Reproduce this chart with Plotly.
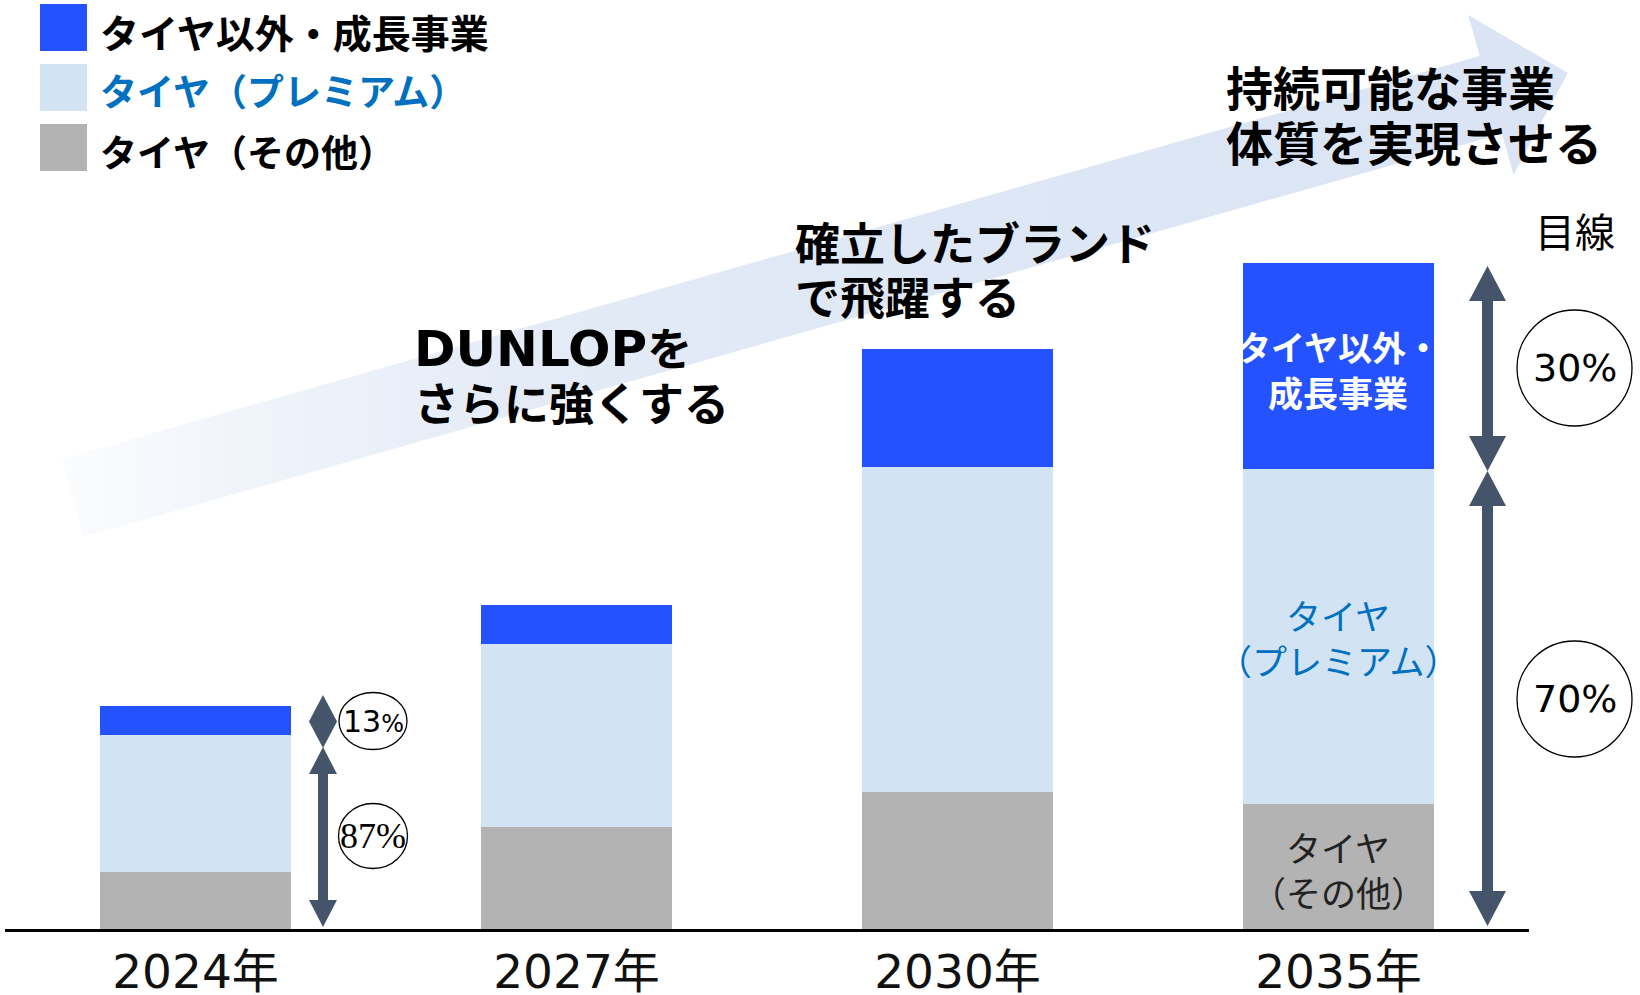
import math
import plotly.graph_objects as go

# ---------------- data ----------------
years = ["2024年", "2027年", "2030年", "2035年"]
tire_other = [57, 102, 137, 125]        # タイヤ（その他）
tire_premium = [137, 183, 325, 335]     # タイヤ（プレミアム）
growth = [29, 39, 118, 206]             # タイヤ以外・成長事業
series_names = ["タイヤ以外・成長事業", "タイヤ（プレミアム）", "タイヤ（その他）"]
share_2024 = ["13%", "87%"]
share_2035 = ["30%", "70%"]
headline_1 = ["DUNLOPを", "さらに強くする"]
headline_2 = ["確立したブランド", "で飛躍する"]
headline_3 = ["持続可能な事業", "体質を実現させる"]

C_GROWTH = "#2452FF"
C_PREM = "#D2E3F3"
C_OTHER = "#B3B3B3"
C_ARROW = "#44546A"
C_PREM_TXT = "#0070C0"
JP = "Noto Sans CJK JP"

W, H = 1640, 995
fig = go.Figure()

# ---------- background gradient arrow (pixel coordinates on x/y) ----------
tail = (72.5, 498.0)
theta = math.atan(0.2842)
u = (math.cos(theta), -math.sin(theta))
n = (math.sin(theta), math.cos(theta))
shaft_len, head_len, shaft_hw, head_hw = 1474.5, 80.0, 40.4, 83.0
pts_sn = [(0, -shaft_hw), (shaft_len, -shaft_hw), (shaft_len, -head_hw),
          (shaft_len + head_len, 0), (shaft_len, head_hw), (shaft_len, shaft_hw),
          (0, shaft_hw), (0, -shaft_hw)]
ax = [tail[0] + s * u[0] + q * n[0] for s, q in pts_sn]
ay = [tail[1] + s * u[1] + q * n[1] for s, q in pts_sn]
fig.add_trace(go.Scatter(
    x=ax, y=ay, mode="lines", fill="toself", line=dict(width=0),
    fillgradient=dict(type="horizontal", colorscale=[
        [0.0, "rgba(218,228,244,0.10)"],
        [0.12, "rgba(218,228,244,0.40)"],
        [0.30, "rgba(218,228,244,0.72)"],
        [0.60, "rgba(218,228,244,0.90)"],
        [1.0, "rgba(218,228,244,1.0)"]]),
    hoverinfo="skip", showlegend=False, xaxis="x", yaxis="y"))

# ---------------- bars (x2/y2) ----------------
xpos = list(range(len(years)))
for vals, col, name in [(tire_other, C_OTHER, series_names[2]),
                        (tire_premium, C_PREM, series_names[1]),
                        (growth, C_GROWTH, series_names[0])]:
    fig.add_trace(go.Bar(x=xpos, y=vals, width=0.5, name=name,
                         marker=dict(color=col, line=dict(width=0)),
                         xaxis="x2", yaxis="y2", showlegend=False,
                         hoverinfo="skip"))

shapes = []
annotations = []

def ann(x, y, text, size, color="#000000", weight="normal", family=JP,
        xanchor="center"):
    annotations.append(dict(x=x, y=y, xref="x", yref="y", text=text,
                            showarrow=False, xanchor=xanchor, yanchor="middle",
                            font=dict(family=family, size=size, color=color,
                                      weight=weight)))

# ---------------- legend ----------------
leg_cols = [C_GROWTH, C_PREM, C_OTHER]
leg_txt_cols = ["#000000", C_PREM_TXT, "#000000"]
leg_y = [(4, 51), (64, 111), (124, 171)]
leg_ty = [31, 90, 151]
for i in range(3):
    shapes.append(dict(type="rect", xref="x", yref="y", x0=40, x1=87,
                       y0=leg_y[i][0], y1=leg_y[i][1], fillcolor=leg_cols[i],
                       line=dict(width=0), layer="above"))
    ann(98, leg_ty[i], series_names[i], 39 if i == 0 else 37,
        leg_txt_cols[i], "bold", xanchor="left")

# ---------------- headlines ----------------
ann(412, 346, '<span style="font-family:DejaVu Sans;font-size:50px">DUNLOP</span>を',
    45, weight="bold", xanchor="left")
ann(412, 401, headline_1[1], 45, weight="bold", xanchor="left")
ann(793, 241, headline_2[0], 45, weight="bold", xanchor="left")
ann(793, 295, headline_2[1], 45, weight="bold", xanchor="left")
ann(1224, 85, headline_3[0], 47, weight="bold", xanchor="left")
ann(1224, 140, headline_3[1], 47, weight="bold", xanchor="left")
ann(1575, 230, "目線", 40)

# ---------------- labels inside 2035 bar ----------------
ann(1338, 346, "タイヤ以外・", 34, "#FFFFFF", "bold")
ann(1338, 391, "成長事業", 35, "#FFFFFF", "bold")
ann(1338, 614, "タイヤ", 35, C_PREM_TXT)
ann(1338, 659, "（プレミアム）", 35, C_PREM_TXT)
ann(1338, 846, "タイヤ", 35, "#222222")
ann(1338, 891, "（その他）", 35, "#222222")

# ---------------- double arrows ----------------
def dbl_arrow(xc, yt, yb, hh, hw, sw):
    hw2, sw2 = hw / 2, sw / 2
    if sw <= 0:
        return (f"M{xc},{yt} L{xc+hw2},{yt+hh} L{xc},{yb} "
                f"L{xc-hw2},{yt+hh} Z")
    return (f"M{xc},{yt} L{xc+hw2},{yt+hh} L{xc+sw2},{yt+hh} "
            f"L{xc+sw2},{yb-hh} L{xc+hw2},{yb-hh} L{xc},{yb} "
            f"L{xc-hw2},{yb-hh} L{xc-sw2},{yb-hh} L{xc-sw2},{yt+hh} "
            f"L{xc-hw2},{yt+hh} Z")

for path in [dbl_arrow(323, 695, 748, 26.5, 28, 0),
             dbl_arrow(323, 747, 927, 27, 28, 10),
             dbl_arrow(1487.5, 266, 471, 35, 37, 11),
             dbl_arrow(1487.5, 471, 926, 35, 37, 11)]:
    shapes.append(dict(type="path", xref="x", yref="y", path=path,
                       fillcolor=C_ARROW, line=dict(width=0), layer="above"))

# ---------------- share ellipses ----------------
ell = [(373, 721, 68, 57, share_2024[0], "DejaVu Sans", 30),
       (373, 836, 69, 65, share_2024[1], "Liberation Serif", 36),
       (1574.5, 368, 115, 116, share_2035[0], "DejaVu Sans", 38),
       (1574.5, 699, 115, 116, share_2035[1], "DejaVu Sans", 38)]
for cx, cy, ew, eh, txt, fam, fs in ell:
    shapes.append(dict(type="circle", xref="x", yref="y", x0=cx - ew / 2,
                       x1=cx + ew / 2, y0=cy - eh / 2, y1=cy + eh / 2,
                       fillcolor="white", line=dict(color="#000000", width=1.3),
                       layer="above"))
    if fs == 30:
        t = txt.replace("%", '<span style="font-size:24px">%</span>')
    else:
        t = txt
    ann(cx, cy, t, fs, "#000000", family=fam)

fig.update_layout(
    width=W, height=H, margin=dict(l=0, r=0, t=0, b=0, autoexpand=False),
    paper_bgcolor="white", plot_bgcolor="rgba(0,0,0,0)",
    barmode="stack", bargap=0, showlegend=False,
    xaxis=dict(domain=[0, 1], range=[0, W], visible=False, fixedrange=True,
               automargin=False),
    yaxis=dict(domain=[0, 1], range=[H, 0], visible=False, fixedrange=True,
               automargin=False),
    xaxis2=dict(domain=[5 / W, 1529 / W], anchor="y2", range=[-0.5, 3.5],
                tickvals=xpos, ticktext=years, showline=True,
                linecolor="#000000", linewidth=2.5, showgrid=False,
                zeroline=False, ticks="", ticklen=0,
                automargin=False, fixedrange=True,
                tickfont=dict(family="DejaVu Sans, " + JP, size=47,
                              color="#111111")),
    yaxis2=dict(domain=[66 / H, 1], anchor="x2", range=[0, 929],
                visible=False, automargin=False, fixedrange=True),
    shapes=shapes, annotations=annotations,
)

fig.write_html(
    "out.html",
    config={"displayModeBar": False},
    post_script=("document.body.style.margin='0';"
                 "document.body.style.overflow='hidden';"
                 "document.documentElement.style.overflow='hidden';"))
